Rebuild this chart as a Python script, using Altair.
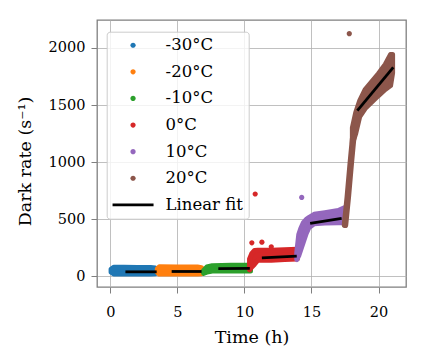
import altair as alt
import pandas as pd

# ---------------- data ----------------
series_names = ["-30°C", "-20°C", "-10°C", "0°C", "10°C", "20°C"]
series_colors = ["#1f77b4", "#ff7f0e", "#2ca02c", "#d62728", "#9467bd", "#8c564b"]

# envelopes of the dense scatter clouds (time h, low / high dark rate)
blue_t = [0.05, 0.25, 1.0, 2.0, 3.0, 3.35]
blue_lo = [35, 20, 18, 18, 18, 22]
blue_hi = [60, 78, 78, 75, 76, 72]

orange_t = [3.5, 3.65, 5.0, 6.5, 6.8]
orange_lo = [35, 18, 18, 18, 22]
orange_hi = [65, 82, 80, 80, 75]

green_t = [6.95, 7.2, 7.6, 9.0, 10.45]
green_lo = [25, 35, 45, 45, 45]
green_hi = [50, 80, 92, 95, 95]

red_t = [10.38, 10.55, 10.75, 11.0, 12.0, 13.0, 13.95]
red_lo = [55, 80, 105, 140, 140, 145, 150]
red_hi = [150, 200, 225, 228, 228, 232, 236]

purple_t = [13.9, 14.05, 14.2, 14.4, 14.6, 14.8, 15.2, 16.0, 17.0, 17.45]
purple_lo = [145, 180, 232, 303, 373, 425, 460, 465, 469, 469]
purple_hi = [206, 364, 417, 469, 496, 513, 542, 557, 575, 600]

brown_rise_t = [17.5, 17.71, 17.93, 18.1, 18.2]
brown_rise_v = [450, 695, 989, 1200, 1280]

brown_t = [18.05, 18.3, 18.6, 19.0, 19.5, 20.0, 20.5, 20.9, 21.05]
brown_lo = [1160, 1250, 1399, 1469, 1526, 1583, 1636, 1671, 1780]
brown_hi = [1300, 1434, 1539, 1636, 1706, 1776, 1855, 1943, 1943]

# isolated points
out_t = [10.8, 10.55, 11.3, 12.0, 14.27, 17.82]
out_v = [720, 292, 298, 257, 690, 2125]
out_series = ["0°C", "0°C", "0°C", "0°C", "10°C", "20°C"]

# linear fits (start / end)
fit_t0 = [1.12, 4.57, 8.05, 11.3, 14.9, 18.42]
fit_t1 = [3.45, 6.8, 10.4, 13.9, 17.25, 21.1]
fit_v0 = [38, 41, 66, 160, 462, 1450]
fit_v1 = [38, 41, 68, 175, 506, 1830]

x_ticks = [0, 5, 10, 15, 20]
y_ticks = [0, 500, 1000, 1500, 2000]

# ---------------- chart ----------------
FONT = "DejaVu Serif"
legend_domain = series_names + ["Linear fit"]
legend_colors = series_colors + ["#000000"]
dot = "M0.52,0A0.52,0.52,0,1,1,-0.52,0A0.52,0.52,0,1,1,0.52,0Z"
bar = "M-4.1,-0.27H4.1V0.27H-4.1Z"
legend_shapes = [dot] * 6 + [bar]

xs = alt.Scale(domain=[-1.0, 22.05], nice=False, zero=False)
ys = alt.Scale(domain=[-95, 2245], nice=False, zero=False)

xax = alt.Axis(values=x_ticks, title="Time (h)", grid=True, format="d")
yax = alt.Axis(values=y_ticks, title="Dark rate (s⁻¹)", grid=True, format="d", titleY=141)


def X(f):
    return alt.X(f, scale=xs, axis=xax)


def Y(f):
    return alt.Y(f, scale=ys, axis=yax)


bands = [
    (blue_t, blue_lo, blue_hi, series_colors[0]),
    (orange_t, orange_lo, orange_hi, series_colors[1]),
    (green_t, green_lo, green_hi, series_colors[2]),
    (red_t, red_lo, red_hi, series_colors[3]),
    (purple_t, purple_lo, purple_hi, series_colors[4]),
]

layers = []
for t, lo, hi, c in bands:
    d = pd.DataFrame({"t": t, "lo": lo, "hi": hi})
    layers.append(
        alt.Chart(d).mark_area(color=c, stroke=c, strokeWidth=5, strokeJoin="round", opacity=1)
        .encode(x=X("t:Q"), y=Y("hi:Q"), y2="lo:Q")
    )

rise = pd.DataFrame({"t": brown_rise_t, "v": brown_rise_v})
layers.append(
    alt.Chart(rise).mark_line(color=series_colors[5], strokeWidth=6.5, strokeCap="round",
                              strokeJoin="round")
    .encode(x=X("t:Q"), y=Y("v:Q"))
)
bd = pd.DataFrame({"t": brown_t, "lo": brown_lo, "hi": brown_hi})
layers.append(
    alt.Chart(bd).mark_area(color=series_colors[5], stroke=series_colors[5], strokeWidth=5,
                            strokeJoin="round", opacity=1)
    .encode(x=X("t:Q"), y=Y("hi:Q"), y2="lo:Q")
)

pts = pd.DataFrame({"t": out_t, "v": out_v, "series": out_series})
layers.append(
    alt.Chart(pts).mark_point(filled=True, size=100, opacity=1, strokeWidth=0)
    .encode(
        x=X("t:Q"),
        y=Y("v:Q"),
        color=alt.Color("series:N", scale=alt.Scale(domain=legend_domain, range=legend_colors),
                        legend=alt.Legend(title=None)),
        shape=alt.Shape("series:N", scale=alt.Scale(domain=legend_domain, range=legend_shapes),
                        legend=alt.Legend(title=None)),
    )
)

fits = pd.DataFrame({"t0": fit_t0, "t1": fit_t1, "v0": fit_v0, "v1": fit_v1})
layers.append(
    alt.Chart(fits).mark_rule(color="black", strokeWidth=2.8)
    .encode(x=X("t0:Q"), x2="t1:Q", y=Y("v0:Q"), y2="v1:Q")
)

chart = (
    alt.layer(*layers)
    .properties(width=309, height=267,
                padding={"left": 97, "top": 20, "right": 23, "bottom": 74})
    .configure(autosize="none", background="white")
    .configure_view(stroke="#7f7f7f", strokeWidth=1.3)
    .configure_axis(
        labelFont=FONT, labelFontSize=14.5, labelColor="black",
        titleFont=FONT, titleFontSize=17.5, titleFontWeight="normal", titleColor="black",
        gridColor="#b0b0b0", gridWidth=0.8, domain=False,
        tickColor="#7f7f7f", tickSize=6, tickWidth=1,
    )
    .configure_axisX(labelPadding=12, titlePadding=10)
    .configure_axisY(labelPadding=6, titlePadding=14)
    .configure_legend(
        orient="none", legendX=9.7, legendY=11.7, padding=5.3, rowPadding=9.6,
        labelFont=FONT, labelFontSize=16.5, labelColor="black",
        symbolSize=100, symbolStrokeWidth=0, symbolOffset=12.8, labelOffset=24.3,
        fillColor="rgba(255,255,255,0.8)", strokeColor="#cccccc", cornerRadius=3,
    )
)

chart.save("out.html", embed_options={"renderer": "svg", "actions": False})
